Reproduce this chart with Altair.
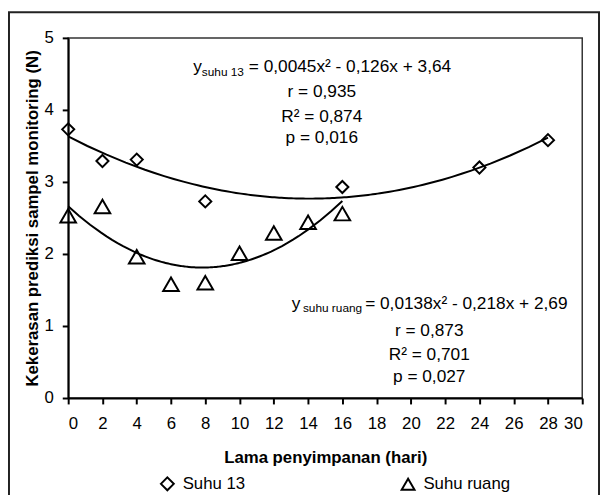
import altair as alt
import pandas as pd

# ---- data ----
days_13 = [0, 2, 4, 8, 16, 24, 28]
hard_13 = [3.73, 3.29, 3.31, 2.73, 2.93, 3.20, 3.58]
days_ruang = [0, 2, 4, 6, 8, 10, 12, 14, 16]
hard_ruang = [2.53, 2.66, 1.96, 1.58, 1.60, 2.01, 2.29, 2.44, 2.56]
series_names = ["Suhu 13", "Suhu ruang"]
x_ticks = list(range(0, 31, 2))
y_ticks = [0, 1, 2, 3, 4, 5]

# annotation texts
eq_main = ["= 0,0045x² - 0,126x + 3,64", "= 0,0138x² - 0,218x + 2,69"]
eq_sub = ["suhu 13", "suhu ruang"]
stats_13 = ["r = 0,935", "R² = 0,874", "p = 0,016"]
stats_ruang = ["r = 0,873", "R² = 0,701", "p = 0,027"]

# annotation anchors (data units)
eq_y_x = [7.3, 13.05]
eq_y_y = [4.589, 1.301]
eq_sub_x = [7.8, 13.7]
eq_sub_y = [4.53, 1.245]
eq_main_x = [10.54, 17.33]
stats_x = [14.8, 21.07]
stats_13_y = [4.247, 3.904, 3.607]
stats_ruang_y = [0.936, 0.593, 0.297]

FONT = "Liberation Sans"
W, H = 521, 365

df13 = pd.DataFrame({"x": days_13, "y": hard_13, "seri": series_names[0]})
dfr = pd.DataFrame({"x": days_ruang, "y": hard_ruang, "seri": series_names[1]})

xs = alt.Scale(domain=[0, 30], nice=False)
ys = alt.Scale(domain=[0, 5], nice=False)
X = alt.X("x:Q", scale=xs, axis=alt.Axis(values=x_ticks, format="d", labelOverlap=False,
                                          title="Lama penyimpanan (hari)",
                                          labelPadding=12, titlePadding=18))
Y = alt.Y("y:Q", scale=ys, axis=alt.Axis(values=y_ticks, format="d", labelOverlap=False,
                                          title="Kekerasan prediksi sampel monitoring (N)",
                                          labelPadding=9, titleX=-27))

shape_enc = alt.Shape(
    "seri:N",
    scale=alt.Scale(domain=series_names, range=["diamond", "triangle-up"]),
    legend=alt.Legend(title=None, orient="none", legendX=92, legendY=443,
                      direction="horizontal", columns=2, columnPadding=153,
                      labelFontSize=17, labelFont=FONT, labelColor="black",
                      symbolSize=170, symbolStrokeWidth=2, symbolStrokeColor="black",
                      symbolFillColor="white", symbolType="diamond", labelOffset=7, padding=0),
)

pts13 = alt.Chart(df13).mark_point(filled=False, strokeWidth=2, opacity=1, size=150, color="black").encode(
    x=X, y=Y, shape=shape_enc)
ptsr = alt.Chart(dfr).mark_point(filled=False, strokeWidth=2, opacity=1, size=250, color="black").encode(
    x=X, y=Y, shape=shape_enc)

fit13 = alt.Chart(df13).transform_regression(
    "x", "y", method="poly", order=2, extent=[0, 28]
).mark_line(color="black", strokeWidth=2).encode(x=X, y=Y)

fitr = alt.Chart(dfr).transform_regression(
    "x", "y", method="poly", order=2, extent=[0, 16]
).mark_line(color="black", strokeWidth=2).encode(x=X, y=Y)

ann_y = alt.Chart(pd.DataFrame({"x": eq_y_x, "y": eq_y_y, "t": ["y", "y"]})).mark_text(
    align="left", baseline="middle", fontSize=17.5, font=FONT, color="black"
).encode(x=X, y=Y, text="t:N")

ann_sub = alt.Chart(pd.DataFrame({"x": eq_sub_x, "y": eq_sub_y, "t": eq_sub})).mark_text(
    align="left", baseline="middle", fontSize=12, font=FONT, color="black"
).encode(x=X, y=Y, text="t:N")

ann_main = alt.Chart(pd.DataFrame({"x": eq_main_x, "y": eq_y_y, "t": eq_main})).mark_text(
    align="left", baseline="middle", fontSize=17.5, font=FONT, color="black"
).encode(x=X, y=Y, text="t:N")

ann_stats = alt.Chart(pd.DataFrame({
    "x": [stats_x[0]] * 3 + [stats_x[1]] * 3,
    "y": stats_13_y + stats_ruang_y,
    "t": stats_13 + stats_ruang,
})).mark_text(
    align="center", baseline="middle", fontSize=17.5, font=FONT, color="black"
).encode(x=X, y=Y, text="t:N")

frame = alt.Chart(pd.DataFrame({"a": [0]})).mark_rect(
    fill=None, stroke="#222222", strokeWidth=2
).encode(x=alt.value(-60), x2=alt.value(538), y=alt.value(-26), y2=alt.value(480))

chart = alt.layer(pts13, ptsr, fit13, fitr, ann_y, ann_sub, ann_main, ann_stats, frame).properties(
    width=W, height=H,
    autosize=alt.AutoSizeParams(type="none"),
    padding={"left": 61, "top": 27, "right": 18, "bottom": 95},
).configure(font=FONT).configure_view(
    stroke="#333333", strokeWidth=1.5
).configure_axis(
    grid=False, domainColor="black", domainWidth=2, tickColor="black", tickWidth=2, tickSize=6,
    labelFontSize=17, labelFont=FONT, labelColor="black",
    titleFontSize=17, titleFont=FONT, titleFontWeight="bold", titleColor="black",
)

chart.save("out.html", embed_options={"renderer": "svg", "actions": False})
